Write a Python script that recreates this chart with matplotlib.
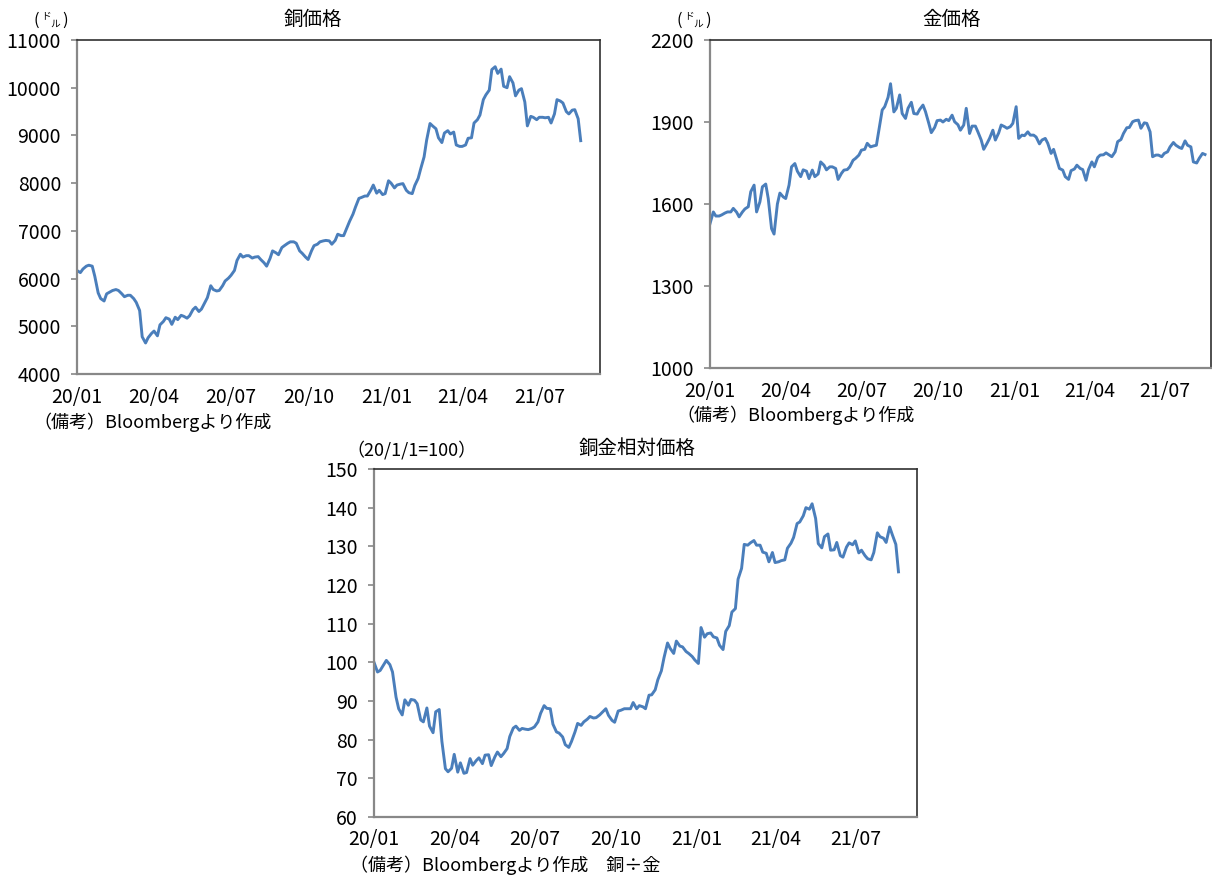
import datetime as dt

import matplotlib
matplotlib.use("Agg")
import matplotlib.pyplot as plt
import pandas as pd


plt.rcParams["font.family"] = ["Noto Sans CJK JP", "DejaVu Sans"]

# observations twice a week (Thu / Mon), 2020-01-02 .. 2021-08-19
DATES = pd.date_range("2020-01-02", "2021-08-19", freq="W-THU").union(
    pd.date_range("2020-01-06", "2021-08-16", freq="W-MON")
)

# LME copper, USD/t  (Thu, Mon per row)
COPPER = [
    6168, 6125, 6200, 6260, 6280, 6260, 6050, 5700, 5580, 5530,
    5680, 5720, 5750, 5770, 5750, 5680, 5620, 5650, 5650, 5580,
    5500, 5330, 4780, 4650, 4760, 4850, 4900, 4800, 5030, 5100,
    5180, 5150, 5040, 5190, 5140, 5230, 5210, 5170, 5220, 5350,
    5400, 5310, 5360, 5500, 5600, 5850, 5770, 5740, 5750, 5850,
    5950, 6010, 6070, 6170, 6380, 6510, 6450, 6480, 6480, 6430,
    6450, 6460, 6400, 6330, 6260, 6420, 6580, 6540, 6500, 6650,
    6690, 6740, 6770, 6770, 6740, 6580, 6530, 6450, 6400, 6580,
    6690, 6720, 6770, 6790, 6800, 6790, 6720, 6800, 6930, 6900,
    6900, 7070, 7200, 7350, 7500, 7680, 7700, 7730, 7730, 7850,
    7960, 7790, 7850, 7760, 7780, 8050, 8000, 7900, 7960, 7980,
    7990, 7850, 7800, 7780, 7950, 8100, 8300, 8550, 8900, 9250,
    9200, 9140, 8950, 8850, 9050, 9100, 9030, 9070, 8800, 8770,
    8770, 8800, 8940, 8950, 9260, 9330, 9427, 9750, 9850, 9950,
    10380, 10440, 10300, 10390, 10030, 10000, 10231, 10100, 9830, 9950,
    9980, 9700, 9200, 9400, 9380, 9330, 9380, 9380, 9370, 9380,
    9260, 9450, 9750, 9720, 9680, 9500, 9450, 9530, 9540, 9350,
    8890,
]

# gold, USD/oz
GOLD = [
    1528, 1571, 1556, 1556, 1560, 1567, 1571, 1571, 1584, 1570,
    1553, 1571, 1582, 1590, 1645, 1669, 1571, 1608, 1663, 1673,
    1620, 1510, 1490, 1600, 1640, 1626, 1620, 1669, 1736, 1748,
    1720, 1700, 1725, 1720, 1693, 1724, 1700, 1710, 1754, 1742,
    1725, 1736, 1736, 1730, 1690, 1712, 1724, 1726, 1736, 1760,
    1767, 1779, 1797, 1800, 1822, 1809, 1812, 1815, 1870, 1944,
    1956, 1990, 2040, 1937, 1950, 1999, 1931, 1913, 1950, 1972,
    1931, 1929, 1946, 1962, 1938, 1895, 1861, 1880, 1905, 1907,
    1900, 1910, 1905, 1925, 1901, 1890, 1870, 1889, 1950, 1858,
    1885, 1885, 1864, 1834, 1800, 1822, 1840, 1870, 1834, 1860,
    1889, 1883, 1877, 1883, 1895, 1956, 1840, 1852, 1850, 1864,
    1852, 1852, 1845, 1820, 1834, 1840, 1822, 1785, 1800, 1760,
    1730, 1724, 1700, 1690, 1722, 1728, 1742, 1730, 1726, 1687,
    1726, 1754, 1736, 1770, 1779, 1780, 1787, 1779, 1773, 1791,
    1828, 1836, 1858, 1879, 1880, 1901, 1905, 1907, 1877, 1897,
    1895, 1864, 1773, 1779, 1779, 1773, 1785, 1791, 1809, 1825,
    1815, 1807, 1803, 1831, 1815, 1809, 1754, 1750, 1767, 1785,
    1781,
]

# copper / gold, 2020-01-01 = 100
RATIO = [
    100.0, 97.5, 97.9, 99.4, 100.5, 99.4, 97.5, 91.0, 88.0, 86.4,
    90.3, 88.9, 90.4, 90.2, 89.3, 85.1, 84.6, 88.2, 83.5, 81.8,
    87.2, 87.8, 79.6, 72.5, 71.7, 72.6, 76.2, 71.6, 74.0, 71.3,
    71.5, 75.1, 73.4, 74.6, 75.3, 73.8, 76.0, 76.1, 73.3, 75.5,
    76.8, 75.6, 76.4, 77.7, 80.8, 83.0, 83.5, 82.4, 82.9, 82.7,
    82.6, 82.9, 83.3, 84.6, 86.8, 88.8, 88.1, 88.0, 84.0, 82.0,
    81.7, 80.7, 78.7, 78.0, 79.5, 82.0, 84.2, 83.7, 84.6, 85.3,
    86.0, 85.6, 85.7, 86.4, 87.1, 88.0, 86.3, 85.0, 84.5, 87.4,
    87.6, 88.0, 88.0, 88.0, 89.6, 88.0, 88.8, 88.5, 88.0, 91.5,
    91.6, 92.9, 95.5, 97.8, 101.2, 105.0, 103.6, 102.3, 105.5, 104.2,
    104.0, 102.8, 102.3, 101.5, 100.6, 99.7, 109.0, 106.5, 107.4, 107.6,
    106.6, 106.3, 104.4, 103.3, 108.0, 109.5, 113.0, 113.9, 121.5, 124.3,
    130.5, 130.3, 130.9, 131.5, 130.3, 130.3, 128.5, 128.2, 126.0, 128.4,
    125.8, 126.0, 126.3, 126.5, 129.5, 130.8, 132.3, 135.9, 136.3, 137.9,
    140.0, 139.6, 141.0, 137.2, 130.7, 129.6, 132.5, 133.2, 129.0, 129.1,
    131.0, 127.6, 127.2, 129.8, 130.9, 130.4, 131.4, 128.3, 129.0, 127.6,
    126.8, 126.5, 128.4, 133.5, 132.5, 132.1, 131.0, 135.0, 133.0, 130.5,
    123.4,
]

TICK_DATES = pd.to_datetime([
    "2020-01-02", "2020-04-02", "2020-07-02", "2020-10-02",
    "2021-01-02", "2021-04-02", "2021-07-02",
])
TICK_LABELS = ["20/01", "20/04", "20/07", "20/10", "21/01", "21/04", "21/07"]

LINE_COLOR = "#4a7ebb"
FS = 14
W, H = 1212, 876


def draw_panel(fig, rect, values, ylim, yticks, span_days, title, title_x):

    ax = fig.add_axes(rect)

    ax.plot(DATES, values, color=LINE_COLOR, lw=2.1, solid_joinstyle="round")

    start = dt.datetime(2020, 1, 2)
    ax.set_xlim(start, start + dt.timedelta(days=span_days))
    ax.set_ylim(*ylim)

    ax.set_yticks(yticks)
    ax.set_yticklabels([str(v) for v in yticks], fontsize=FS)
    ax.set_xticks(TICK_DATES)
    ax.set_xticklabels(TICK_LABELS, fontsize=FS)

    ax.tick_params(axis="y", direction="out", length=4.5, width=1.2,
                   color="#888888", pad=7)
    ax.tick_params(axis="x", length=0, pad=9)

    for side in ("left", "bottom"):
        ax.spines[side].set_color("#888888")
        ax.spines[side].set_linewidth(1.6)
    for side in ("top", "right"):
        ax.spines[side].set_color("#303030")
        ax.spines[side].set_linewidth(1.2)

    fig.text(title_x, rect[1] + rect[3] + 0.012, title,
             fontsize=FS, ha="center", va="bottom")

    return ax


def unit_dollar(fig, x_px, y_px):
    # "(ドル)" with the two kana set small and staggered
    fig.text(x_px / W, 1 - y_px / H, "(", fontsize=12,
             ha="center", va="center")
    fig.text((x_px + 10) / W, 1 - (y_px - 5) / H, "ド", fontsize=7,
             ha="center", va="center")
    fig.text((x_px + 19) / W, 1 - (y_px + 4) / H, "ル", fontsize=7,
             ha="center", va="center")
    fig.text((x_px + 29) / W, 1 - y_px / H, ")", fontsize=12,
             ha="center", va="center")


def main():

    fig = plt.figure(figsize=(W / 100, H / 100), dpi=100)

    draw_panel(
        fig,
        [77 / W, 1 - 374 / H, 523 / W, 334 / H],
        COPPER,
        (4000, 11000),
        list(range(4000, 11001, 1000)),
        617.8,
        "銅価格",
        313 / W,
    )
    unit_dollar(fig, 36, 20)
    fig.text(33 / W, 1 - 422 / H, "（備考）Bloombergより作成",
             fontsize=FS - 1, ha="left", va="center")

    draw_panel(
        fig,
        [710 / W, 1 - 368 / H, 501 / W, 328 / H],
        GOLD,
        (1000, 2200),
        [1000, 1300, 1600, 1900, 2200],
        602.2,
        "金価格",
        952 / W,
    )
    unit_dollar(fig, 679, 20)
    fig.text(676 / W, 1 - 415 / H, "（備考）Bloombergより作成",
             fontsize=FS - 1, ha="left", va="center")

    draw_panel(
        fig,
        [374 / W, 1 - 817 / H, 543 / W, 348 / H],
        RATIO,
        (60, 150),
        list(range(60, 151, 10)),
        616.0,
        "銅金相対価格",
        637 / W,
    )
    fig.text(346 / W, 1 - 450 / H, "（20/1/1=100）",
             fontsize=FS - 1, ha="left", va="center")
    fig.text(350 / W, 1 - 865 / H, "（備考）Bloombergより作成　銅÷金",
             fontsize=FS - 1, ha="left", va="center")

    fig.savefig("out.png", dpi=100)


if __name__ == "__main__":

    main()
